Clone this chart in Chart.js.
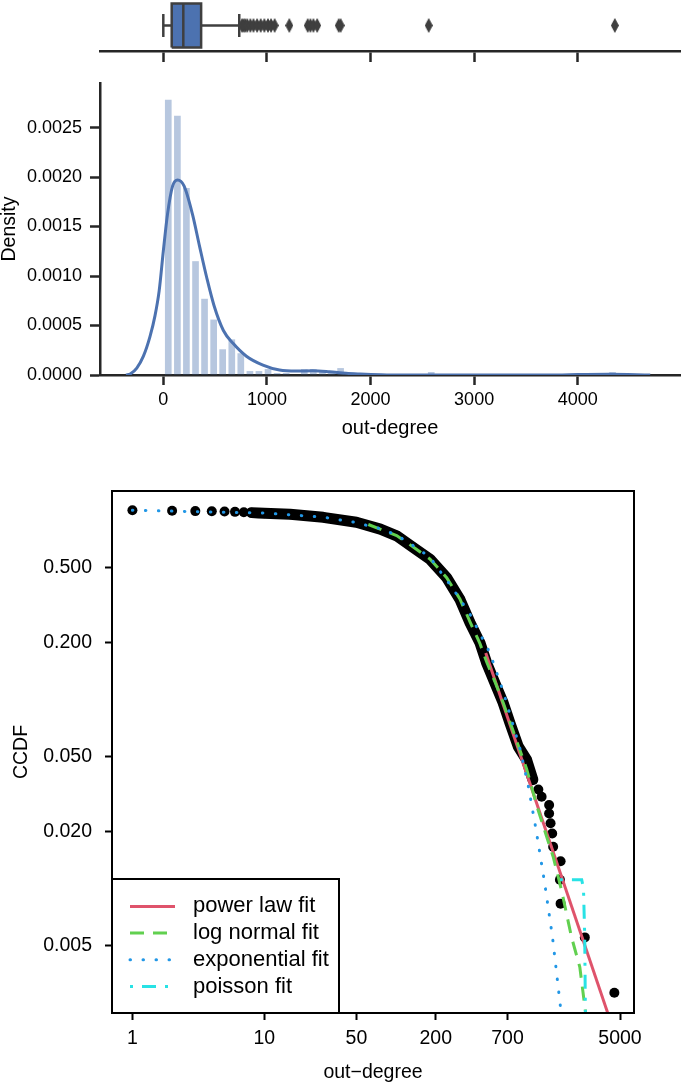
<!DOCTYPE html>
<html>
<head>
<meta charset="utf-8">
<title>out-degree distribution</title>
<script src="https://cdn.jsdelivr.net/npm/chart.js"></script>
<style>
  html, body { margin: 0; padding: 0; background: #fff; }
  #page { position: relative; width: 685px; height: 1084px; overflow: hidden; }
  canvas { position: absolute; left: 0; }
  #box { top: 0; }
  #hist { top: 63px; }
  #ccdf { top: 450px; }
</style>
</head>
<body>
<div id="page">
  <canvas id="box" width="685" height="75"></canvas>
  <canvas id="hist" width="685" height="382"></canvas>
  <canvas id="ccdf" width="685" height="634"></canvas>
</div>
<script>
// ---- values ----

// boxplot: lower whisker, Q1, median, Q3, upper whisker
const BOX_STATS = [0, 81, 193, 365, 733];
const BOX_OUTLIERS = [760, 775, 790, 810, 840, 870, 905, 940, 975, 1010, 1040, 1075,
  1216, 1394, 1420, 1449, 1485, 1693, 1712, 2562, 4358];

// histogram (density) + kde
const DEG_TICKS = [0, 1000, 2000, 3000, 4000];
const DENSITY_TICKS = [0, 0.0005, 0.001, 0.0015, 0.002, 0.0025];
const HIST_BINS = [48, 136, 223, 311, 398, 486, 573, 661, 748, 836, 923, 1011,
  1098, 1186, 1273, 1361, 1448, 1536, 1623, 1711, 2586, 4336];
const HIST_DENSITY = [0.00278, 0.00262, 0.00189, 0.00115, 0.00077, 0.00056, 0.00026,
  0.00036, 0.00022, 0.00004, 0.00004, 0.00006, 0.00002, 0.00002, 0, 0.00006, 0.00006,
  0.00003, 0.00002, 0.00007, 0.00003, 0.00003];
const KDE_X = [-360, -320, -256, -192, -128, -80, -40, 0, 40, 90, 138, 200, 280, 350,
  420, 490, 580, 673, 802, 962, 1122, 1283, 1442, 1603, 1764, 1900, 2100, 2300, 3800,
  4000, 4300, 4700];
const KDE_Y = [0, 0.00001, 0.00007, 0.00019, 0.00039, 0.0006, 0.00085, 0.00125, 0.00162,
  0.00191, 0.00197, 0.00191, 0.00163, 0.0013, 0.00098, 0.0007, 0.00045, 0.00032,
  0.00019, 0.0001, 0.00005, 0.00004, 0.000043, 0.000033, 0.000017, 0.00001, 0.000003,
  0, 0, 0.000005, 0.000008, 0];

// CCDF (log-log)
const CCDF_X_TICKS = [1, 10, 50, 200, 700, 5000];
const CCDF_Y_TICKS = [0.005, 0.02, 0.05, 0.2, 0.5];
const CCDF_Y_LABELS = ['0.005', '0.020', '0.050', '0.200', '0.500'];
const CCDF_X = [1, 2, 3, 4, 5, 6, 7, 8, 9, 10, 15.7, 28, 50, 76, 101, 135, 181, 242, 305,
  364, 433, 486, 562, 650, 731, 845, 977, 1091, 1200, 1271, 1449, 1449, 1486, 1529, 1555,
  1771, 1750, 1771, 2703, 4529];
const CCDF_Y = [1.0, 0.994, 0.99, 0.988, 0.985, 0.981, 0.976, 0.972, 0.968, 0.965, 0.952,
  0.918, 0.864, 0.795, 0.733, 0.636, 0.551, 0.44, 0.338, 0.254, 0.199, 0.156, 0.122,
  0.0957, 0.075, 0.0563, 0.0479, 0.0376, 0.0333, 0.0305, 0.0276, 0.0249, 0.0221, 0.0195,
  0.0166, 0.0139, 0.0111, 0.0083, 0.0055, 0.0028];

const PL_X = [479, 4027];
const PL_Y = [0.176, 0.0022];
const LN_X = [61.6, 101, 135, 181, 242, 305, 364, 433, 486, 562, 650, 731, 845, 977,
  1175, 1387, 1555, 1800, 2143, 2477, 2740];
const LN_Y = [0.841, 0.735, 0.64, 0.552, 0.44, 0.34, 0.257, 0.197, 0.158, 0.124, 0.096,
  0.076, 0.057, 0.043, 0.027, 0.0188, 0.0147, 0.00977, 0.00552, 0.00383, 0.0022];
const EXP_X = [1, 10, 28, 47.5, 76, 101, 135, 181, 208, 260, 362, 515, 650, 869, 1004,
  1143, 1337, 1538, 1787];
const EXP_Y = [1.0, 0.967, 0.92, 0.866, 0.8, 0.74, 0.65, 0.565, 0.492, 0.4, 0.284, 0.176,
  0.11, 0.0552, 0.0352, 0.0212, 0.0108, 0.0055, 0.0022];
const POIS_X = [1750, 2560, 2641, 2700, 2731];
const POIS_Y = [0.0111, 0.0111, 0.01, 0.0055, 0.0022];

// ---- styling ----
const FONT = "'Liberation Sans', Arial, Helvetica, sans-serif";
const DARK = '#262626';
const SEA_BLUE = '#4C72B0';
const BOX_EDGE = '#3f3f3f';
const BOX_HALF = 0.43;
const CAP_HALF = 0.225;
const DEG_MIN = -611, DEG_MAX = 4987;

Chart.defaults.font.family = FONT;
Chart.defaults.color = '#000';

const pts = (xs, ys) => xs.map((x, i) => ({ x: x, y: ys[i] }));

function thinDiamond(w, h, color) {
  const c = document.createElement('canvas');
  c.width = w;
  c.height = h;
  const g = c.getContext('2d');
  g.fillStyle = color;
  g.beginPath();
  g.moveTo(w / 2, 0);
  g.lineTo(w, h / 2);
  g.lineTo(w / 2, h);
  g.lineTo(0, h / 2);
  g.closePath();
  g.fill();
  return c;
}

const base = {
  responsive: false,
  animation: false,
  devicePixelRatio: 1,
  events: [],
};

// ---------- top: boxplot ----------
const seg = (x0, y0, x1, y1) => [{ x: x0, y: y0 }, { x: x1, y: y1 }];
const lineDs = (data, extra) => Object.assign({
  data: data, borderColor: BOX_EDGE, borderWidth: 2.5, pointRadius: 0, tension: 0, fill: false,
}, extra || {});
const [wLo, q1, med, q3, wHi] = BOX_STATS;

new Chart(document.getElementById('box'), {
  type: 'line',
  data: {
    datasets: [
      lineDs(BOX_OUTLIERS.map(v => ({ x: v, y: 0 })), {
        showLine: false, pointRadius: 5, pointStyle: thinDiamond(8, 15, BOX_EDGE),
      }),
      lineDs(seg(med, -BOX_HALF, med, BOX_HALF)),
      lineDs([{ x: q1, y: -BOX_HALF }, { x: q3, y: -BOX_HALF }, { x: q3, y: BOX_HALF },
        { x: q1, y: BOX_HALF }, { x: q1, y: -BOX_HALF }], {
        fill: 'shape', backgroundColor: SEA_BLUE,
      }),
      lineDs(seg(wLo, 0, q1, 0)),
      lineDs(seg(q3, 0, wHi, 0)),
      lineDs(seg(wLo, -CAP_HALF, wLo, CAP_HALF)),
      lineDs(seg(wHi, -CAP_HALF, wHi, CAP_HALF)),
    ],
  },
  options: Object.assign({}, base, {
    layout: { autoPadding: false, padding: { left: 100, right: 5, top: 0, bottom: 0 } },
    plugins: { legend: { display: false }, tooltip: { enabled: false } },
    scales: {
      x: {
        type: 'linear', min: DEG_MIN, max: DEG_MAX,
        afterBuildTicks: s => { s.ticks = DEG_TICKS.map(v => ({ value: v })); },
        afterFit: s => { s.height = 24; },
        border: { display: true, color: DARK, width: 2.5 },
        grid: { drawOnChartArea: false, drawTicks: true, tickLength: 11, tickWidth: 2.5, tickColor: DARK },
        ticks: { display: false },
      },
      y: { type: 'linear', display: false, min: -0.5, max: 0.5 },
    },
  }),
});

// ---------- middle: histogram + kde ----------
new Chart(document.getElementById('hist'), {
  type: 'bar',
  data: {
    datasets: [
      {
        type: 'line',
        data: pts(KDE_X, KDE_Y),
        borderColor: SEA_BLUE,
        borderWidth: 3,
        pointRadius: 0,
        cubicInterpolationMode: 'monotone',
        order: 0,
      },
      {
        type: 'bar',
        data: pts(HIST_BINS, HIST_DENSITY),
        backgroundColor: 'rgba(76,114,176,0.4)',
        borderWidth: 0,
        categoryPercentage: 1,
        barPercentage: 0.74,
        order: 1,
      },
    ],
  },
  options: Object.assign({}, base, {
    layout: { autoPadding: false, padding: { left: 0, right: 5, top: 20, bottom: 0 } },
    plugins: { legend: { display: false }, tooltip: { enabled: false } },
    scales: {
      x: {
        type: 'linear', min: DEG_MIN, max: DEG_MAX, offset: false,
        afterBuildTicks: s => { s.ticks = DEG_TICKS.map(v => ({ value: v })); },
        afterFit: s => { s.height = 70; },
        border: { display: true, color: DARK, width: 2.5 },
        grid: { drawOnChartArea: false, offset: false, tickLength: 10, tickWidth: 2.5, tickColor: DARK },
        ticks: { padding: 4, font: { size: 18 }, color: '#000', maxRotation: 0, autoSkip: false,
          callback: v => String(v) },
        title: { display: true, text: 'out-degree', color: '#000', font: { size: 20, lineHeight: 1 },
          padding: { top: 0, bottom: 7 } },
      },
      y: {
        type: 'linear', min: 0, max: 0.00295,
        afterBuildTicks: s => { s.ticks = DENSITY_TICKS.map(v => ({ value: v })); },
        afterFit: s => { s.width = 100; },
        border: { display: true, color: DARK, width: 2.5 },
        grid: { drawOnChartArea: false, tickLength: 10, tickWidth: 2.5, tickColor: DARK },
        ticks: { padding: 8, font: { size: 18 }, color: '#000', autoSkip: false,
          callback: v => v.toFixed(4) },
        title: { display: true, text: 'Density', color: '#000', font: { size: 19.5, lineHeight: 1 },
          padding: { top: 0, bottom: 0 } },
      },
    },
  }),
});

// ---------- bottom: CCDF with fitted distributions ----------
const frame = {
  id: 'frame',
  afterDraw(chart) {
    const a = chart.chartArea;
    const ctx = chart.ctx;
    ctx.save();
    ctx.lineWidth = 2;
    ctx.strokeStyle = '#000';
    ctx.strokeRect(a.left, a.top, a.right - a.left, a.bottom - a.top);
    ctx.restore();
  },
};

const fitLegend = {
  id: 'fitLegend',
  afterDraw(chart) {
    const a = chart.chartArea;
    const ctx = chart.ctx;
    const w = 227, h = 134;
    const top = a.bottom - h;
    ctx.save();
    ctx.fillStyle = '#fff';
    ctx.fillRect(a.left, top, w, h);
    ctx.lineWidth = 2;
    ctx.strokeStyle = '#000';
    ctx.strokeRect(a.left, top, w, h);
    chart.data.datasets.filter(d => d.isFit).forEach((d, i) => {
      const y = top + 27.4 + i * 26.7;
      ctx.beginPath();
      ctx.setLineDash(d.borderDash || []);
      ctx.lineCap = d.borderCapStyle || 'butt';
      ctx.lineWidth = d.borderWidth;
      ctx.strokeStyle = d.borderColor;
      ctx.moveTo(a.left + 18, y);
      ctx.lineTo(a.left + 63, y);
      ctx.stroke();
      ctx.setLineDash([]);
      ctx.fillStyle = '#000';
      ctx.font = '22px ' + FONT;
      ctx.textBaseline = 'middle';
      ctx.textAlign = 'left';
      ctx.fillText(d.label, a.left + 81, y);
    });
    ctx.restore();
  },
};

const fit = (label, xs, ys, color, dash, cap, order) => ({
  label: label, isFit: true, data: pts(xs, ys), showLine: true, pointRadius: 0,
  borderColor: color, borderWidth: 3, borderDash: dash, borderCapStyle: cap, order: order,
});

new Chart(document.getElementById('ccdf'), {
  type: 'scatter',
  data: {
    datasets: [
      fit('power law fit', PL_X, PL_Y, '#DF536B', [], 'butt', 4),
      fit('log normal fit', LN_X, LN_Y, '#61D04F', [14, 9], 'butt', 3),
      fit('exponential fit', EXP_X, EXP_Y, '#2297E6', [0.5, 12.5], 'round', 2),
      fit('poisson fit', POIS_X, POIS_Y, '#28E2E5', [3, 9, 14, 9], 'butt', 1),
      {
        data: pts(CCDF_X, CCDF_Y).filter(p => p.x >= 8 && p.x <= 1091),
        showLine: true, pointRadius: 0, borderColor: '#000', borderWidth: 11,
        borderJoinStyle: 'round', borderCapStyle: 'round', order: 9,
      },
      {
        data: pts(CCDF_X, CCDF_Y),
        pointRadius: 5, pointBorderWidth: 0, backgroundColor: '#000', order: 10,
      },
    ],
  },
  plugins: [frame, fitLegend],
  options: Object.assign({}, base, {
    layout: { autoPadding: false, padding: { left: 0, right: 51, top: 41, bottom: 0 } },
    plugins: { legend: { display: false }, tooltip: { enabled: false } },
    scales: {
      x: {
        type: 'logarithmic', min: 0.714, max: 6383,
        afterBuildTicks: s => { s.ticks = CCDF_X_TICKS.map(v => ({ value: v })); },
        afterFit: s => { s.height = 71; },
        border: { display: false },
        grid: { drawOnChartArea: false, tickLength: 7, tickWidth: 2, tickColor: '#000' },
        ticks: { padding: 7, font: { size: 19.5 }, color: '#000', maxRotation: 0, autoSkip: false,
          callback: v => String(v) },
        title: { display: true, text: 'out\u2212degree', color: '#000', font: { size: 19.5 },
          padding: { top: 0, bottom: 0 } },
      },
      y: {
        type: 'logarithmic', min: 0.00219, max: 1.265,
        afterBuildTicks: s => { s.ticks = CCDF_Y_TICKS.map(v => ({ value: v })); },
        afterFit: s => { s.width = 112; },
        border: { display: false },
        grid: { drawOnChartArea: false, tickLength: 7, tickWidth: 2, tickColor: '#000' },
        ticks: { padding: 13, font: { size: 19.5 }, color: '#000', autoSkip: false,
          callback: (v, i) => CCDF_Y_LABELS[i] },
        title: { display: true, text: 'CCDF', color: '#000', font: { size: 19.5 },
          padding: { top: 10, bottom: 0 } },
      },
    },
  }),
});
</script>
</body>
</html>
